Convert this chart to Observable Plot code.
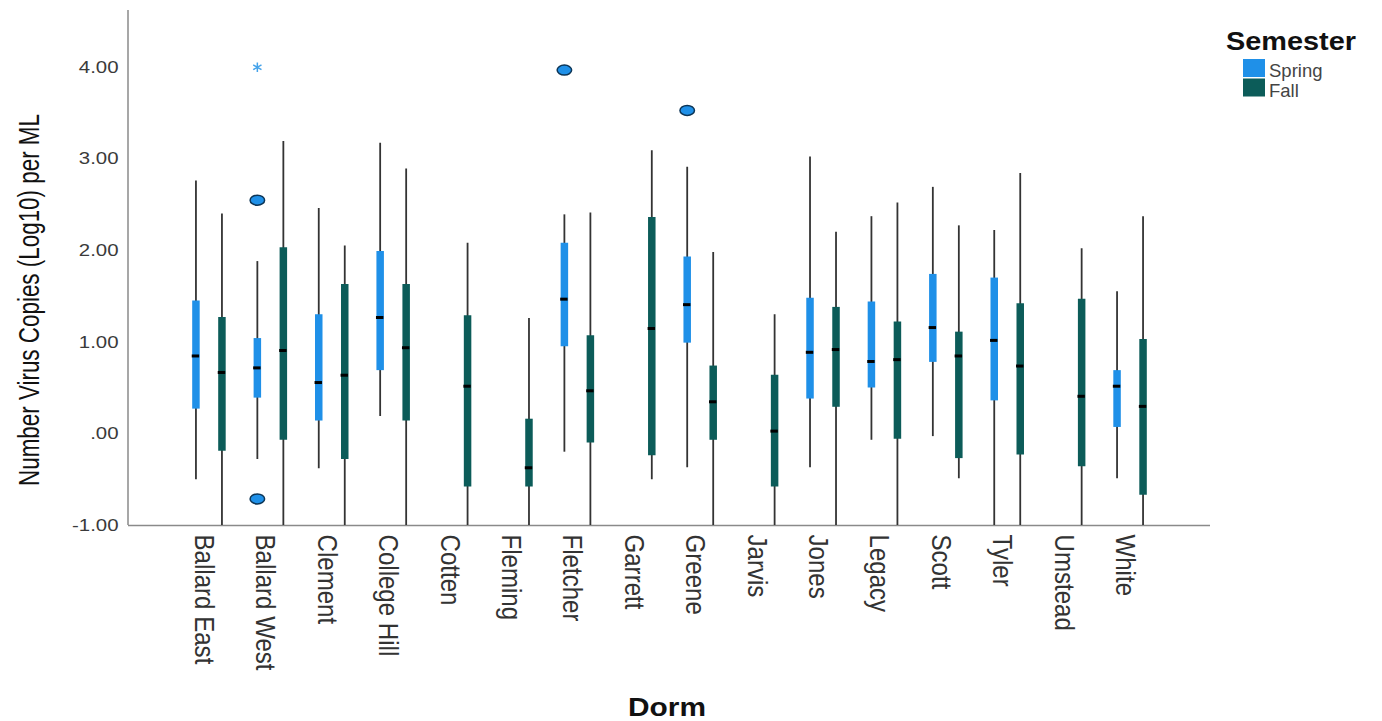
<!DOCTYPE html>
<html>
<head>
<meta charset="utf-8">
<script src="https://cdn.jsdelivr.net/npm/d3@7"></script>
<script src="https://cdn.jsdelivr.net/npm/@observablehq/plot@0.6"></script>
<style>
  body { margin: 0; background: #fff; }
  #chart { position: relative; width: 1382px; height: 721px; }
</style>
</head>
<body>
<div id="chart"></div>
<script>
// ---------- data ----------
const dorms = ["Ballard East","Ballard West","Clement","College Hill","Cotten","Fleming","Fletcher","Garrett","Greene","Jarvis","Jones","Legacy","Scott","Tyler","Umstead","White"];
const semesters = ["Spring", "Fall"];
const semesterColors = ["#1f90e8", "#0c5c59"];

// Spring (null = no spring samples)
const springLow    = [-0.50, -0.28, -0.38, 0.19, null, null, -0.20, null, -0.37, null, -0.37, -0.07, -0.03, -1.00, null, -0.49];
const springQ1     = [ 0.27,  0.39,  0.14, 0.69, null, null,  0.95, null,  0.99, null,  0.38,  0.50,  0.78,  0.36, null,  0.07];
const springMedian = [ 0.85,  0.72,  0.56, 1.27, null, null,  1.47, null,  1.41, null,  0.89,  0.79,  1.16,  1.02, null,  0.52];
const springQ3     = [ 1.45,  1.04,  1.30, 1.99, null, null,  2.08, null,  1.93, null,  1.48,  1.44,  1.74,  1.70, null,  0.69];
const springHigh   = [ 2.76,  1.88,  2.46, 3.17, null, null,  2.39, null,  2.91, null,  3.02,  2.37,  2.69,  2.22, null,  1.55];

// Fall
const fallLow    = [-1.00, -1.00, -1.00, -1.00, -1.00, -1.00, -1.00, -0.50, -1.00, -1.00, -1.00, -1.00, -0.49, -1.00, -1.00, -1.00];
const fallQ1     = [-0.19, -0.07, -0.28,  0.14, -0.58, -0.58, -0.10, -0.24, -0.07, -0.58,  0.29, -0.06, -0.27, -0.23, -0.36, -0.67];
const fallMedian = [ 0.67,  0.91,  0.64,  0.94,  0.52, -0.37,  0.47,  1.15,  0.35,  0.03,  0.92,  0.81,  0.85,  0.74,  0.41,  0.30];
const fallQ3     = [ 1.27,  2.03,  1.63,  1.63,  1.29,  0.16,  1.07,  2.36,  0.74,  0.64,  1.38,  1.22,  1.11,  1.42,  1.47,  1.03];
const fallHigh   = [ 2.40,  3.19,  2.05,  2.89,  2.08,  1.26,  2.41,  3.09,  1.98,  1.30,  2.20,  2.52,  2.27,  2.84,  2.02,  2.37];

// Outliers (circles) and extreme values (stars), all Spring
const outlierDorms  = ["Ballard West", "Ballard West", "Fletcher", "Greene"];
const outlierValues = [2.55, -0.71, 3.97, 3.53];
const extremeDorms  = ["Ballard West"];
const extremeValues = [4.00];

const yTicks = [-1, 0, 1, 2, 3, 4];

// ---------- tables ----------
const rows = [];
const series = {
  Spring: [springLow, springQ1, springMedian, springQ3, springHigh],
  Fall:   [fallLow, fallQ1, fallMedian, fallQ3, fallHigh]
};
for (const s of semesters) {
  const [lo, q1, md, q3, hi] = series[s];
  dorms.forEach((d, i) => {
    if (md[i] != null) rows.push({dorm: d, semester: s, low: lo[i], q1: q1[i], median: md[i], q3: q3[i], high: hi[i]});
  });
}
const outliers = outlierDorms.map((d, i) => ({dorm: d, semester: "Spring", value: outlierValues[i]}));
const extremes = extremeDorms.map((d, i) => ({dorm: d, semester: "Spring", value: extremeValues[i]}));

const offset = {Spring: -13, Fall: 13};

const ellipse = {
  draw(ctx, size) {
    const r = Math.sqrt(size / Math.PI);
    const rx = r * 1.45, ry = r, k = 0.5523;
    ctx.moveTo(rx, 0);
    ctx.bezierCurveTo(rx, ry * k, rx * k, ry, 0, ry);
    ctx.bezierCurveTo(-rx * k, ry, -rx, ry * k, -rx, 0);
    ctx.bezierCurveTo(-rx, -ry * k, -rx * k, -ry, 0, -ry);
    ctx.bezierCurveTo(rx * k, -ry, rx, -ry * k, rx, 0);
    ctx.closePath();
  }
};

const marks = [Plot.ruleY([-1], {stroke: "#8a8a8a", strokeWidth: 1.5})];
for (const s of semesters) {
  const d = rows.filter(r => r.semester === s);
  marks.push(Plot.ruleX(d, {x: "dorm", y1: "low", y2: "high", stroke: "#333", strokeWidth: 1.8, dx: offset[s]}));
}
for (const s of semesters) {
  const d = rows.filter(r => r.semester === s);
  marks.push(Plot.ruleX(d, {x: "dorm", y1: "q1", y2: "q3", stroke: "semester", strokeWidth: 7.5, dx: offset[s]}));
}
for (const s of semesters) {
  const d = rows.filter(r => r.semester === s);
  marks.push(Plot.tickY(d, {x: "dorm", y: "median", stroke: "#000", strokeWidth: 3, insetLeft: 27, insetRight: 27, dx: offset[s]}));
}
marks.push(Plot.dot(outliers, {x: "dorm", y: "value", fill: "semester", stroke: "#0d3556", strokeWidth: 1.5, r: 5, symbol: ellipse, dx: offset.Spring}));
marks.push(Plot.dot(extremes, {x: "dorm", y: "value", stroke: "#45a3ea", strokeWidth: 1.5, r: 4.5, symbol: "asterisk", dx: offset.Spring}));

const plot = Plot.plot({
  width: 1382,
  height: 721,
  marginLeft: 128,
  marginRight: 172,
  marginTop: 10,
  marginBottom: 196,
  style: {fontFamily: "'Liberation Sans', Arial, sans-serif", background: "#fff", color: "#333", overflow: "visible"},
  x: {domain: dorms, type: "band", paddingInner: 0, paddingOuter: 0.81, round: false, tickSize: 0, tickPadding: 9, tickRotate: 90, label: null},
  y: {domain: [-1, 4.62], ticks: yTicks, tickFormat: d => d === 0 ? ".00" : d.toFixed(2), tickSize: 0, tickPadding: 10, label: null},
  color: {domain: semesters, range: semesterColors},
  marks
});

document.getElementById("chart").appendChild(plot);
const svg = d3.select(plot);

// axis text styling
const xText = svg.selectAll('g[aria-label="x-axis tick label"] text, g[aria-label="x-axis"] text');
svg.selectAll('g[aria-label="x-axis tick label"], g[aria-label="x-axis"]').attr("font-size", 28).attr("fill", "#333").attr("transform", function() {
  const t = this.getAttribute("transform") || ""; return t + " translate(-5,0)";
});
xText.each(function() {
  const L = this.getComputedTextLength();
  this.setAttribute("textLength", L * 0.86);
  this.setAttribute("lengthAdjust", "spacingAndGlyphs");
});
svg.selectAll('g[aria-label="y-axis tick label"], g[aria-label="y-axis"]').attr("font-size", 17).attr("fill", "#3a3a3a");
svg.selectAll('g[aria-label="y-axis tick label"] text, g[aria-label="y-axis"] text').each(function() {
  const L = this.getComputedTextLength();
  this.setAttribute("textLength", L * 1.2);
  this.setAttribute("lengthAdjust", "spacingAndGlyphs");
});

// y axis line
const xr = plot.scale("x").range, yr = plot.scale("y").range;
svg.append("line").attr("x1", xr[0]).attr("x2", xr[0]).attr("y1", yr[0]).attr("y2", yr[1])
  .attr("stroke", "#8a8a8a").attr("stroke-width", 1.5);

// axis titles
svg.append("text").text("Number Virus Copies (Log10) per ML")
  .attr("transform", "translate(39,300) rotate(-90)")
  .attr("text-anchor", "middle").attr("font-size", 29).attr("fill", "#111")
  .attr("textLength", 372).attr("lengthAdjust", "spacingAndGlyphs");
svg.append("text").text("Dorm")
  .attr("x", 667).attr("y", 716).attr("text-anchor", "middle")
  .attr("font-size", 26).attr("font-weight", "bold").attr("fill", "#111")
  .attr("textLength", 78).attr("lengthAdjust", "spacingAndGlyphs");

// legend
const lg = svg.append("g").attr("text-anchor", "start");
lg.append("text").text("Semester").attr("x", 1226).attr("y", 50).attr("text-anchor", "start")
  .attr("font-size", 26).attr("font-weight", "bold").attr("fill", "#111")
  .attr("textLength", 130).attr("lengthAdjust", "spacingAndGlyphs");
semesters.forEach((s, i) => {
  lg.append("rect").attr("x", 1243).attr("y", 59 + i * 19.5).attr("width", 22).attr("height", 18).attr("fill", semesterColors[i]);
  lg.append("text").text(s).attr("x", 1269).attr("y", 76.5 + i * 20.5).attr("text-anchor", "start")
    .attr("font-size", 18.5).attr("fill", "#444");
});
</script>
</body>
</html>
